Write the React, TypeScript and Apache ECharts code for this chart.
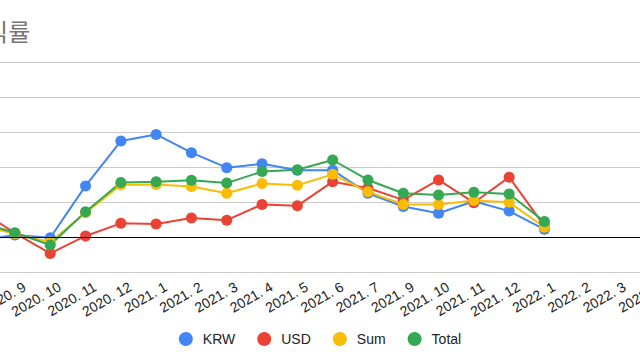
import React, { useEffect, useRef } from "react";
import * as echarts from "echarts";

const categories = [
  "2020. 8", "2020. 9", "2020. 10", "2020. 11", "2020. 12",
  "2021. 1", "2021. 2", "2021. 3", "2021. 4", "2021. 5", "2021. 6", "2021. 7",
  "2021. 9", "2021. 10", "2021. 11", "2021. 12",
  "2022. 1", "2022. 2", "2022. 3", "2022. 4",
];

const krw = [-1.0, 0.6, -0.2, 14.6, 27.4, 29.3, 24.1, 19.8, 20.9, 19.1, 19.1, 12.5, 8.7, 6.8, 10.2, 7.4, 2.2, null, null, null];
const usd = [7.7, 1.1, -4.7, 0.3, 3.9, 3.7, 5.4, 4.8, 9.3, 8.9, 15.8, 14.0, 10.6, 16.3, 9.8, 17.1, 3.1, null, null, null];
const sum = [3.4, 0.9, -1.4, 6.9, 14.9, 15.0, 14.4, 12.5, 15.3, 14.8, 17.9, 12.9, 9.3, 9.3, 10.4, 9.9, 2.8, null, null, null];
const total = [4.2, 1.2, -2.3, 7.2, 15.6, 15.8, 16.2, 15.4, 18.7, 19.2, 22.0, 16.3, 12.5, 12.0, 12.8, 12.3, 4.4, null, null, null];

const seriesNames = ["KRW", "USD", "Sum", "Total"];
const seriesData = [krw, usd, sum, total];
const colors = ["#4285F4", "#EA4335", "#FBBC04", "#34A853"];
const titleText = "수익률";

const FONT = "'Liberation Sans', Arial, sans-serif";

export default function App() {
  const ref = useRef<HTMLDivElement>(null);
  useEffect(() => {
    if (!ref.current) return;
    const chart = echarts.init(ref.current, undefined, { renderer: "svg" });
    chart.setOption({
      animation: false,
      title: {
        text: titleText,
        left: 59,
        top: 13,
        textStyle: {
          fontFamily: "'Noto Sans CJK KR', sans-serif",
          fontSize: 24,
          fontWeight: "normal",
          color: "#757575",
        },
      },
      legend: {
        data: seriesNames,
        left: "center",
        top: 327,
        icon: "circle",
        itemWidth: 14,
        itemHeight: 14,
        itemGap: 22,
        textStyle: {
          fontFamily: FONT,
          fontSize: 14,
          color: "#222",
          padding: [0, 0, 0, 5],
        },
      },
      grid: { left: 62, right: 72, top: 62, bottom: 88, containLabel: false },
      xAxis: {
        type: "category",
        data: categories,
        boundaryGap: true,
        axisLine: { show: false },
        axisTick: { show: false },
        axisLabel: {
          interval: 0,
          rotate: 30,
          margin: -3,
          padding: [12, 0, 0, 0],
          align: "right",
          verticalAlign: "top",
          fontFamily: FONT,
          fontSize: 14,
          color: "#222",
        },
      },
      yAxis: {
        type: "value",
        min: -10,
        max: 50,
        interval: 10,
        axisLabel: { show: false },
        axisLine: { show: false },
        axisTick: { show: false },
        splitLine: { lineStyle: { color: "#cccccc", width: 1 } },
      },
      series: seriesData.map((d, i) => ({
        name: seriesNames[i],
        type: "line",
        data: d,
        color: colors[i],
        symbol: "circle",
        symbolSize: 11,
        showSymbol: true,
        lineStyle: { width: 2, color: colors[i] },
        itemStyle: { color: colors[i] },
        emphasis: { disabled: true },
        markLine:
          i === 0
            ? {
                silent: true,
                symbol: "none",
                label: { show: false },
                lineStyle: { color: "#000", width: 1, type: "solid" },
                data: [{ yAxis: 0 }],
              }
            : undefined,
      })),
    });
    return () => chart.dispose();
  }, []);

  return (
    <div style={{ position: "fixed", left: 0, top: 0, width: 640, height: 360, overflow: "hidden", background: "#fff" }}>
      <div ref={ref} style={{ position: "absolute", left: -100, top: 0, width: 840, height: 360 }} />
    </div>
  );
}
